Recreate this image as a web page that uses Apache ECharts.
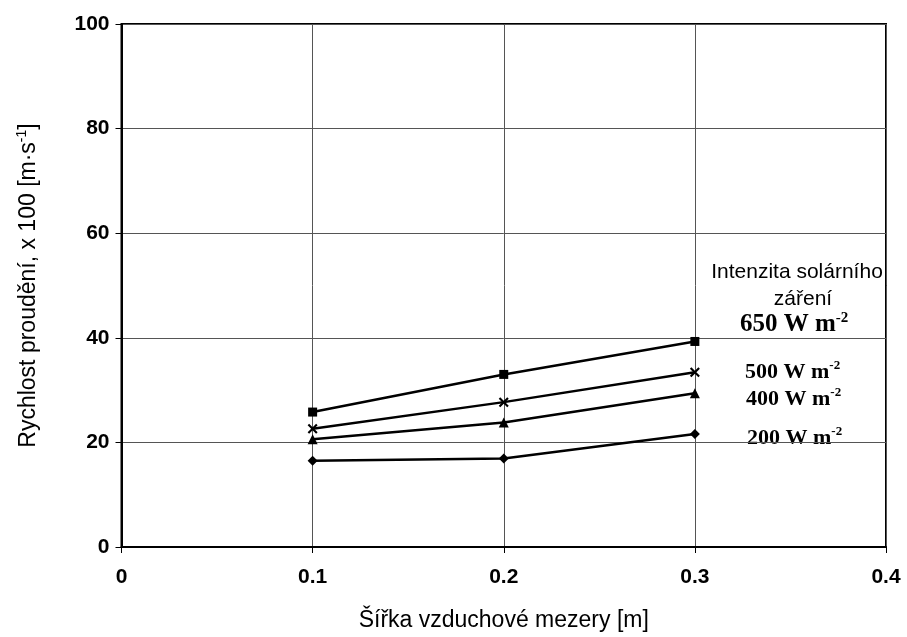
<!DOCTYPE html>
<html><head><meta charset="utf-8">
<script src="https://cdn.jsdelivr.net/npm/echarts@6/dist/echarts.min.js"></script>
<style>html,body{margin:0;padding:0;background:#fff}#c{width:907px;height:637px}</style>
</head><body><div id="c"></div>
<script>
var xValues = [0.1, 0.2, 0.3];
var s650 = [25.8, 33.0, 39.3];
var s500 = [22.6, 27.7, 33.4];
var s400 = [20.6, 23.8, 29.4];
var s200 = [16.5, 16.9, 21.6];
var seriesNames = ['650 W m-2', '500 W m-2', '400 W m-2', '200 W m-2'];
var xTicks = [0, 0.1, 0.2, 0.3, 0.4];
var yTicks = [0, 20, 40, 60, 80, 100];

function pairs(v){ return xValues.map(function(x,i){ return [x, v[i]]; }); }
var crossPath = 'path://M0,1.5 L1.5,0 L5,3.5 L8.5,0 L10,1.5 L6.5,5 L10,8.5 L8.5,10 L5,6.5 L1.5,10 L0,8.5 L3.5,5 Z';
var symbols = ['rect', crossPath, 'triangle', 'diamond'];
var sizes = [9, 10, 10, 10];
var data = [s650, s500, s400, s200];

var chart = echarts.init(document.getElementById('c'));
function serifLabel(txt, x, y, fs){
  var rich = {
    a: {fontFamily: 'Liberation Serif', fontSize: fs, fontWeight: 'bold', color: '#000'},
    s: {fontFamily: 'Liberation Serif', fontSize: Math.round(fs*0.6), fontWeight: 'bold', color: '#000', verticalAlign: 'top', padding: [0,0,Math.round(fs*0.55),0]}
  };
  return {type: 'text', x: x, y: y, style: {text: '{a|' + txt + ' W m}{s|-2}', rich: rich, align: 'left', verticalAlign: 'middle', textAlign: 'left', textVerticalAlign: 'middle'}};
}
function sansLabel(txt, x, y){
  return {type: 'text', x: x, y: y, style: {text: txt, fontFamily: 'Liberation Sans', fontSize: 21, fill: '#000', align: 'center', verticalAlign: 'middle', textAlign: 'center', textVerticalAlign: 'middle'}};
}
chart.setOption({
  animation: false,
  backgroundColor: '#fff',
  grid: {left: 121.5, right: 21, top: 24, bottom: 86, show: true, borderColor: '#000', borderWidth: 2},
  xAxis: {
    type: 'value', min: 0, max: 0.4, interval: 0.1,
    name: 'Šířka vzduchové mezery [m]', nameLocation: 'middle', nameGap: 62,
    nameTextStyle: {fontFamily: 'Liberation Sans', fontSize: 23, color: '#000'},
    axisLine: {lineStyle: {color: '#000', width: 2}},
    axisTick: {show: true, length: 6, lineStyle: {color: '#000'}},
    axisLabel: {margin: 20, fontFamily: 'Liberation Sans', fontSize: 21, fontWeight: 'bold', color: '#000',
      formatter: function(v){ var r = Math.round(v*10)/10; return xTicks.indexOf(r) >= 0 ? String(r) : ''; }},
    splitLine: {show: true, lineStyle: {color: '#555', width: 1}}
  },
  yAxis: {
    type: 'value', min: 0, max: 100, interval: 20,
    name: '{n|Rychlost proudění, x 100 [m·s}{s|-1}{n|]}', nameLocation: 'middle', nameGap: 80,
    nameTextStyle: {rich: {
      n: {fontFamily: 'Liberation Sans', fontSize: 23, color: '#000'},
      s: {fontFamily: 'Liberation Sans', fontSize: 14, color: '#000', verticalAlign: 'top', padding: [0,0,12,0]}
    }},
    axisLine: {show: true, lineStyle: {color: '#000', width: 2}},
    axisTick: {show: true, length: 6, lineStyle: {color: '#000'}},
    axisLabel: {margin: 12, fontFamily: 'Liberation Sans', fontSize: 21, fontWeight: 'bold', color: '#000',
      formatter: function(v){ return yTicks.indexOf(v) >= 0 ? String(v) : ''; }},
    splitLine: {show: true, lineStyle: {color: '#555', width: 1}}
  },
  series: data.map(function(d, i){
    return {
      type: 'line', name: seriesNames[i], data: pairs(d),
      symbol: symbols[i], symbolSize: sizes[i],
      lineStyle: {color: '#000', width: 2.5},
      itemStyle: {color: '#000'}
    };
  }),
  graphic: [
    sansLabel('Intenzita solárního', 797, 272),
    sansLabel('záření', 803, 299),
    serifLabel('650', 740, 325, 25),
    serifLabel('500', 745, 372, 22),
    serifLabel('400', 746, 399, 22),
    serifLabel('200', 747, 438, 22)
  ]
});
</script></body></html>
